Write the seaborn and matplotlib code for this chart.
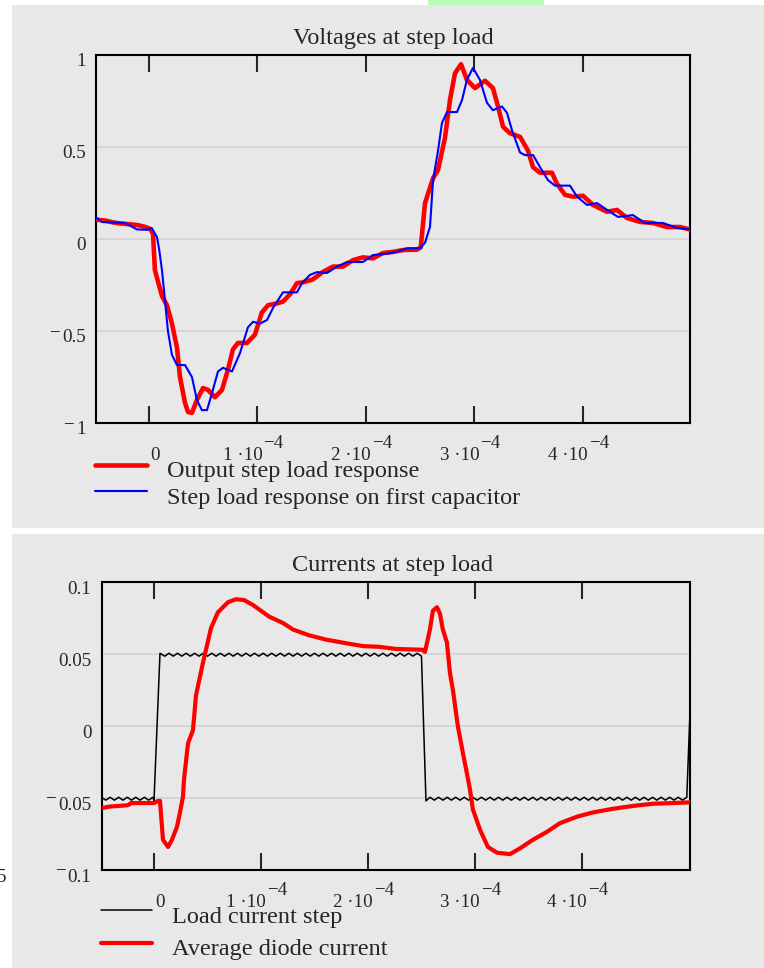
import numpy as np
import pandas as pd
import matplotlib
matplotlib.use("Agg")
import matplotlib.pyplot as plt
import matplotlib.transforms as mtransforms
from matplotlib.patches import Rectangle
import seaborn as sns

# ---------------- data (time in microseconds) ----------------
out_t_us = [-49, -40, -33, -27, -18, -10, -3, 1, 3.7, 5.5, 12, 16.6, 21.2, 25.8, 28.6, 33.2, 36,
            39.6, 44.2, 49.8, 54.4, 60.8, 67.3, 72.8, 77.4, 82, 90.3, 97.7, 104, 109.7, 118, 123.5,
            130, 136.4, 142, 151, 160, 169.6, 178.8, 188, 197, 206.5, 215.7, 224.9, 234, 247,
            250.5, 254.4, 261.8, 266.4, 272.8, 277.4, 282, 287.6, 293, 300.5, 309.7, 317, 321.7,
            326.3, 332.7, 342, 349.3, 354, 360.4, 371.4, 376, 383.4, 390.8, 400, 409.2, 422,
            431.3, 440.6, 452.5, 464.5, 477.4, 489.4, 500]
out_v = [0.105, 0.10, 0.09, 0.085, 0.08, 0.075, 0.065, 0.055, 0.03, -0.17, -0.31, -0.36, -0.46,
         -0.59, -0.75, -0.89, -0.94, -0.945, -0.875, -0.81, -0.82, -0.86, -0.82, -0.71, -0.60,
         -0.565, -0.565, -0.52, -0.40, -0.36, -0.35, -0.34, -0.30, -0.24, -0.235, -0.22, -0.18,
         -0.15, -0.15, -0.115, -0.10, -0.105, -0.076, -0.07, -0.06, -0.058, -0.045, 0.195, 0.33,
         0.375, 0.55, 0.755, 0.90, 0.95, 0.865, 0.82, 0.86, 0.82, 0.72, 0.61, 0.575, 0.555, 0.48,
         0.39, 0.36, 0.36, 0.30, 0.24, 0.23, 0.235, 0.185, 0.148, 0.158, 0.114, 0.093, 0.087,
         0.065, 0.065, 0.05]

cap_t_us = [-49, -43, -22, -11, -1, 2.5, 7.4, 9.5, 12, 14.7, 17.5, 21.2, 25.8, 33.2, 39.6, 44.2,
            48.8, 53.5, 58, 63.6, 68.2, 76.5, 83.9, 91.2, 95.9, 102.3, 108.8, 114.3, 123.5, 136.4,
            141, 148.4, 154.8, 164, 173.3, 182.5, 197.2, 206.5, 219.4, 228.6, 237.8, 249.8, 254.4,
            259, 261.8, 266.4, 270, 274.7, 283.9, 288.5, 293, 298.6, 305, 311.5, 317, 325.3, 330,
            334.6, 342, 346.5, 354, 360.4, 367.7, 374.2, 388, 394.5, 403.7, 413, 424.9, 432.3, 446,
            457, 473.7, 486.6, 500]
cap_v = [0.118, 0.092, 0.087, 0.052, 0.05, 0.06, 0.01, -0.06, -0.17, -0.33, -0.50, -0.63, -0.685,
         -0.685, -0.75, -0.875, -0.93, -0.93, -0.84, -0.72, -0.70, -0.72, -0.62, -0.48, -0.45,
         -0.46, -0.44, -0.375, -0.29, -0.29, -0.24, -0.195, -0.18, -0.185, -0.15, -0.125, -0.125,
         -0.087, -0.08, -0.07, -0.05, -0.05, -0.02, 0.066, 0.32, 0.48, 0.63, 0.69, 0.69, 0.755,
         0.865, 0.93, 0.865, 0.74, 0.70, 0.72, 0.685, 0.59, 0.47, 0.456, 0.456, 0.39, 0.32, 0.29,
         0.29, 0.23, 0.185, 0.195, 0.147, 0.12, 0.13, 0.087, 0.087, 0.06, 0.052]

load_t_us = [-49, -45, -41, -37, -33, -29, -25, -21, -17, -13, -9, -5, -1, 0, 5.6,
             10, 14, 18, 22, 26, 30, 34, 38, 42, 46, 50, 54, 58, 62, 66, 70, 74, 78, 82, 86,
             90, 94, 98, 102, 106, 110, 114, 118, 122, 126, 130, 134, 138, 142, 146, 150, 154,
             158, 162, 166, 170, 174, 178, 182, 186, 190, 194, 198, 202, 206, 210, 214, 218, 222,
             226, 230, 234, 238, 242, 246, 250, 254.2,
             258, 262, 266, 270, 274, 278, 282, 286, 290, 294, 298, 302, 306, 310, 314, 318, 322,
             326, 330, 334, 338, 342, 346, 350, 354, 358, 362, 366, 370, 374, 378, 382, 386, 390,
             394, 398, 402, 406, 410, 414, 418, 422, 426, 430, 434, 438, 442, 446, 450, 454, 458,
             462, 466, 470, 474, 478, 482, 486, 490, 494, 498, 503]
load_a = [-0.0495, -0.0515, -0.0495, -0.0515, -0.0495, -0.0515, -0.0495, -0.0515, -0.0495,
          -0.0515, -0.0495, -0.0515, -0.0495, -0.052, 0.0505,
          0.0485, 0.0505, 0.0485, 0.0505, 0.0485, 0.0505, 0.0485, 0.0505, 0.0485, 0.0505,
          0.0485, 0.0505, 0.0485, 0.0505, 0.0485, 0.0505, 0.0485, 0.0505, 0.0485, 0.0505,
          0.0485, 0.0505, 0.0485, 0.0505, 0.0485, 0.0505, 0.0485, 0.0505, 0.0485, 0.0505,
          0.0485, 0.0505, 0.0485, 0.0505, 0.0485, 0.0505, 0.0485, 0.0505, 0.0485, 0.0505,
          0.0485, 0.0505, 0.0485, 0.0505, 0.0485, 0.0505, 0.0485, 0.0505, 0.0485, 0.0505,
          0.0485, 0.0505, 0.0485, 0.0505, 0.0485, 0.0505, 0.0485, 0.0505, 0.0485, 0.0505,
          0.0485, -0.052,
          -0.0495, -0.0515, -0.0495, -0.0515, -0.0495, -0.0515, -0.0495, -0.0515, -0.0495, -0.0515,
          -0.0495, -0.0515, -0.0495, -0.0515, -0.0495, -0.0515, -0.0495, -0.0515, -0.0495, -0.0515,
          -0.0495, -0.0515, -0.0495, -0.0515, -0.0495, -0.0515, -0.0495, -0.0515, -0.0495, -0.0515,
          -0.0495, -0.0515, -0.0495, -0.0515, -0.0495, -0.0515, -0.0495, -0.0515, -0.0495, -0.0515,
          -0.0495, -0.0515, -0.0495, -0.0515, -0.0495, -0.0515, -0.0495, -0.0515, -0.0495, -0.0515,
          -0.0495, -0.0515, -0.0495, -0.0515, -0.0495, -0.0515, -0.0495, -0.0515, -0.0495, -0.0515,
          -0.0495, 0.05]

diode_t_us = [-48.6, -42, -24.3, -21.5, 0, 3.7, 5.6, 8.4, 13.1, 16.8, 21.5, 24.3, 27.1, 28, 31.8,
              36.4, 39.3, 45.8, 48.6, 53.3, 59.8, 69.2, 76.6, 84.1, 92.5, 101.9, 107.5, 120.6,
              129.9, 144.9, 160.7, 179.4, 195.3, 210.3, 226.2, 247.7, 250.5, 253.3, 257.9, 260.7,
              264.5, 267.3, 270, 273.8, 276.6, 279.4, 284.1, 288.8, 292.5, 295.3, 298.1, 304.7,
              312.1, 320.6, 332.7, 342, 354.2, 367.3, 379.4, 395.3, 410.3, 429, 447.7, 466.4, 485,
              501]
diode_a = [-0.057, -0.056, -0.055, -0.0535, -0.0535, -0.052, -0.052, -0.079, -0.084, -0.079,
           -0.070, -0.060, -0.049, -0.0375, -0.012, -0.003, 0.0215, 0.044, 0.053, 0.068, 0.079,
           0.086, 0.088, 0.0875, 0.084, 0.079, 0.076, 0.0715, 0.067, 0.063, 0.060, 0.0575, 0.0555,
           0.055, 0.0535, 0.053, 0.053, 0.0515, 0.067, 0.080, 0.0825, 0.078, 0.067, 0.058, 0.037,
           0.025, -0.0005, -0.019, -0.033, -0.044, -0.058, -0.072, -0.084, -0.088, -0.089, -0.085,
           -0.079, -0.0735, -0.0675, -0.063, -0.060, -0.0575, -0.0555, -0.054, -0.0535, -0.053]

MINUS = "\u2212"
volt_yticks = [-1, -0.5, 0, 0.5, 1]
volt_ylabels = [MINUS + "1", MINUS + "0.5", "0", "0.5", "1"]
cur_yticks = [-0.1, -0.05, 0, 0.05, 0.1]
cur_ylabels = [MINUS + "0.1", MINUS + "0.05", "0", "0.05", "0.1"]
x_ticks_us = [0, 100, 200, 300, 400]
x_tick_mant = ["0", "1 \u00b710", "2 \u00b710", "3 \u00b710", "4 \u00b710"]
x_tick_exp = ["", MINUS + "4", MINUS + "4", MINUS + "4", MINUS + "4"]

title_top = "Voltages at step load"
title_bottom = "Currents at step load"
lab_out = "Output step load response"
lab_cap = "Step load response on first capacitor"
lab_load = "Load current step"
lab_diode = "Average diode current"

# ---------------- styling ----------------
sns.set_style("white")
plt.rcParams["font.family"] = ["Liberation Serif", "DejaVu Serif"]
GRAY = "#e8e8e8"
W, H = 764, 968
DPI = 100
TICK_FS = 13.7
TEXT_FS = 17.5


def fx(x):
    return x / W


def fy(y):
    return 1 - y / H


fig = plt.figure(figsize=(W / DPI, H / DPI), dpi=DPI)
fig.patch.set_facecolor("white")
fig.patches.append(Rectangle((fx(12), fy(528)), (W - 12) / W, (528 - 5) / H,
                             transform=fig.transFigure, facecolor=GRAY, edgecolor="none", zorder=-10))
fig.patches.append(Rectangle((fx(12), 0), (W - 12) / W, (H - 534) / H,
                             transform=fig.transFigure, facecolor=GRAY, edgecolor="none", zorder=-10))
fig.patches.append(Rectangle((fx(428), fy(5)), 116 / W, 5 / H,
                             transform=fig.transFigure, facecolor="#b6fcb6", edgecolor="none", zorder=-9))

ax1 = fig.add_axes([fx(96), fy(423), (690 - 96) / W, (423 - 55) / H])
ax2 = fig.add_axes([fx(102), fy(870), (690 - 102) / W, (870 - 582) / H])

df_out = pd.DataFrame({"t": np.array(out_t_us) * 1e-6, "v": out_v})
df_cap = pd.DataFrame({"t": np.array(cap_t_us) * 1e-6, "v": cap_v})
df_load = pd.DataFrame({"t": np.array(load_t_us) * 1e-6, "i": load_a})
df_diode = pd.DataFrame({"t": np.array(diode_t_us) * 1e-6, "i": diode_a})

sns.lineplot(data=df_out, x="t", y="v", ax=ax1, color="#ff0000", lw=3.3, estimator=None,
             sort=False, label=lab_out, zorder=3)
sns.lineplot(data=df_cap, x="t", y="v", ax=ax1, color="#0000ff", lw=1.5, estimator=None,
             sort=False, label=lab_cap, zorder=4)
sns.lineplot(data=df_load, x="t", y="i", ax=ax2, color="black", lw=1.1, estimator=None,
             sort=False, label=lab_load, zorder=3)
sns.lineplot(data=df_diode, x="t", y="i", ax=ax2, color="#ff0000", lw=3.0, estimator=None,
             sort=False, label=lab_diode, zorder=4)

ax1.set_xlim(-48.8e-6, 498.6e-6)
ax1.set_ylim(-1, 1)
ax2.set_xlim(-48.6e-6, 501e-6)
ax2.set_ylim(-0.1, 0.1)

offset_lab = mtransforms.ScaledTranslation(0, -5 / DPI, fig.dpi_scale_trans)

for ax, yt, yl, title, top_px in [
        (ax1, volt_yticks, volt_ylabels, title_top, 55),
        (ax2, cur_yticks, cur_ylabels, title_bottom, 582)]:
    ax.set_facecolor(GRAY)
    ax.set_xlabel("")
    ax.set_ylabel("")
    for s in ax.spines.values():
        s.set_visible(True)
        s.set_color("black")
        s.set_linewidth(1.5)
    ax.set_xticks([t * 1e-6 for t in x_ticks_us])
    ax.set_yticks(yt)
    ax.set_yticklabels([s.lstrip(MINUS) for s in yl])
    ax.tick_params(axis="x", direction="in", length=12, width=1.5, top=True, bottom=True,
                   labelbottom=False, labeltop=False)
    ax.tick_params(axis="y", length=0, pad=7.5, labelsize=TICK_FS)
    for lab in ax.get_yticklabels():
        lab.set_transform(lab.get_transform() + offset_lab)
    ax.yaxis.grid(True, color="#d2d2d2", lw=1.2)
    ax.xaxis.grid(False)
    ax.set_axisbelow(True)
    # x tick labels (Mathcad style, superscripted exponent)
    base = mtransforms.blended_transform_factory(ax.transData, ax.transAxes)
    for t, m, e in zip(x_ticks_us, x_tick_mant, x_tick_exp):
        if e == "":
            tr = base + mtransforms.ScaledTranslation(1 / DPI, -37 / DPI, fig.dpi_scale_trans)
            ax.text(t * 1e-6, 0, m, transform=tr, ha="left", va="baseline", fontsize=TICK_FS)
        else:
            tr = base + mtransforms.ScaledTranslation(5 / DPI, -37 / DPI, fig.dpi_scale_trans)
            ax.text(t * 1e-6, 0, m, transform=tr, ha="right", va="baseline", fontsize=TICK_FS)
            tr2 = base + mtransforms.ScaledTranslation(6 / DPI, -25 / DPI, fig.dpi_scale_trans)
            ax.text(t * 1e-6, 0, e, transform=tr2, ha="left", va="baseline", fontsize=TICK_FS)
    fig.text(fx(393), fy(top_px - 11), title, ha="center", va="baseline", fontsize=TEXT_FS)

ax1.legend(loc="upper left", bbox_to_anchor=(fx(95), fy(452)), bbox_transform=fig.transFigure,
           frameon=False, fontsize=TEXT_FS, handlelength=2.15, handletextpad=0.82,
           handleheight=1.8, labelspacing=-0.32, borderpad=0, borderaxespad=0)
ax2.legend(loc="upper left", bbox_to_anchor=(fx(101), fy(898)), bbox_transform=fig.transFigure,
           frameon=False, fontsize=TEXT_FS, handlelength=2.1, handletextpad=0.82,
           handleheight=1.75, labelspacing=-0.05, borderpad=0, borderaxespad=0)

# raised Mathcad-style minus signs in front of negative y tick labels
fig.canvas.draw()
renderer = fig.canvas.get_renderer()
for ax, yt, yl in [(ax1, volt_yticks, volt_ylabels), (ax2, cur_yticks, cur_ylabels)]:
    for lab, val, full in zip(ax.get_yticklabels(), yt, yl):
        if full.startswith(MINUS):
            bb = lab.get_window_extent(renderer)
            tr = lab.get_transform() + mtransforms.ScaledTranslation(
                -(bb.width + 2) / DPI, 5 / DPI, fig.dpi_scale_trans)
            ax.text(0, val, MINUS, transform=tr, ha="right", va=lab.get_va(),
                    fontsize=TICK_FS, clip_on=False)

# clipped stray label at the far left edge
fig.text(fx(6), fy(882), "5", ha="right", va="baseline", fontsize=TICK_FS)

fig.savefig("out.png", dpi=DPI)
